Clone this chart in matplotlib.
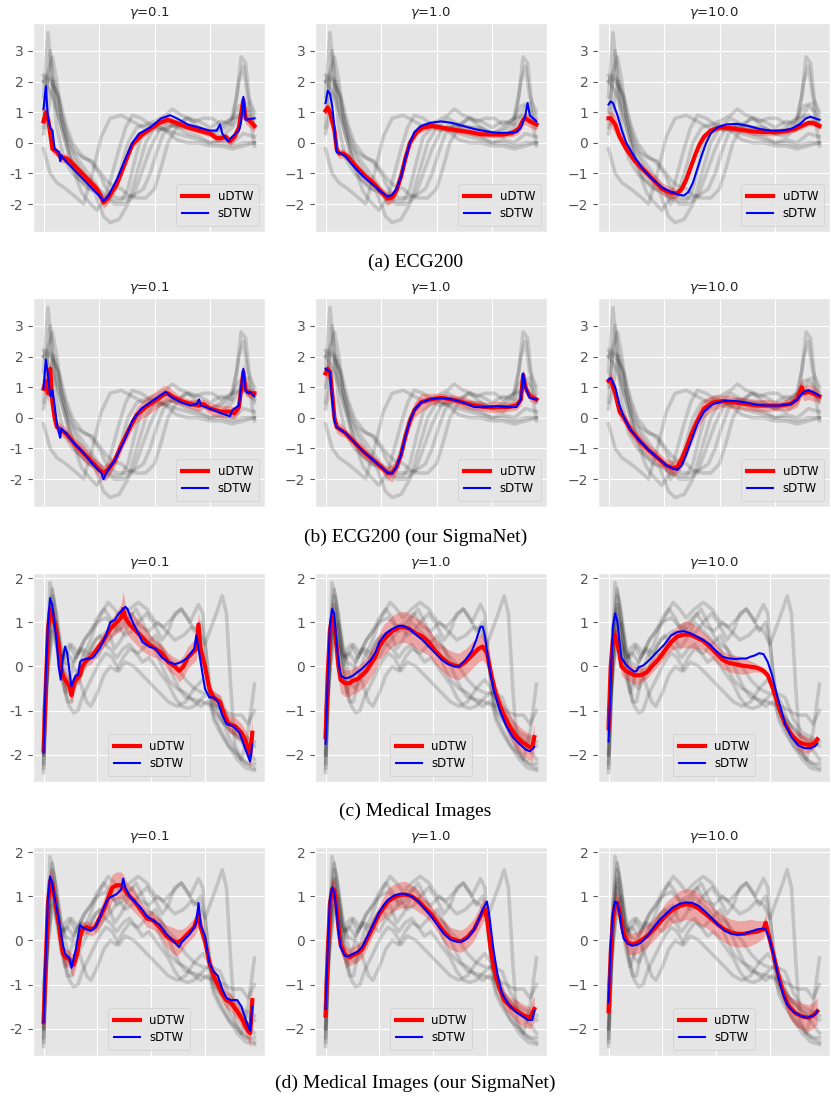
import numpy as np
import matplotlib
matplotlib.use("Agg")
import matplotlib.pyplot as plt
from matplotlib.ticker import FuncFormatter, FixedLocator

plt.style.use("ggplot")

# ---------------- ECG200 background series (x, y) ----------------
ECG_G1 = [(0,-0.2),(3,-1.0),(6,-1.3),(10,-1.5),(15,-1.8),(18,-2.0),(22,-1.0),(26,0.2),(30,0.8),(35,0.9),(40,0.7),(45,0.5),(50,0.6),(55,0.4),(60,0.1),(65,0.0),(70,0.0),(75,-0.1),(80,-0.1),(85,-0.2),(90,-0.1),(95,0.0)]
ECG_G2 = [(0,1.5),(2,3.6),(4,2.0),(6,0.5),(9,-0.5),(13,-1.0),(18,-1.3),(23,-1.6),(27,-2.4),(30,-2.6),(34,-2.5),(38,-2.0),(42,-1.0),(46,0.0),(50,0.5),(55,0.8),(60,0.6),(65,0.5),(70,0.5),(75,0.3),(80,0.4),(84,0.6),(87,1.5),(89,2.8),(91,2.6),(93,1.2),(95,0.8)]
ECG_G3 = [(0,2.0),(2,2.3),(4,2.8),(6,2.0),(8,0.8),(11,0.0),(15,-0.5),(20,-1.0),(25,-1.5),(28,-2.0),(32,-1.5),(35,-0.8),(38,0.0),(42,0.5),(46,0.6),(50,0.7),(55,0.9),(58,1.1),(62,0.9),(66,0.8),(70,0.7),(75,0.5),(80,0.7),(85,0.6),(88,2.0),(90,2.5),(92,1.5),(95,1.0)]
ECG_G4 = [(0,0.5),(2,2.2),(5,2.0),(8,1.0),(11,0.2),(14,-0.3),(18,-0.5),(22,-0.6),(25,-0.9),(28,-1.2),(31,-1.4),(35,-1.5),(38,-1.7),(42,-1.8),(46,-1.8),(50,-1.5),(53,-0.8),(56,0.0),(60,0.5),(64,0.8),(68,0.7),(72,0.8),(76,0.8),(80,0.6),(85,0.8),(90,0.9),(95,0.6)]
ECG_G5 = [(0,2.0),(2,1.8),(4,1.5),(7,0.8),(10,0.0),(14,-1.0),(17,-1.6),(20,-1.9),(24,-2.2),(28,-1.8),(31,-1.0),(34,-0.2),(37,0.5),(40,0.9),(44,0.8),(48,0.6),(52,0.5),(56,0.4),(60,0.3),(65,0.2),(70,0.1),(75,0.0),(80,0.1),(85,0.0),(90,0.3),(95,0.2)]
ECG_G6 = [(0,1.0),(2,2.1),(4,1.9),(7,1.5),(10,0.6),(13,0.0),(17,-0.4),(21,-0.6),(25,-1.0),(29,-1.6),(33,-1.8),(37,-1.8),(41,-1.7),(45,-1.5),(48,-1.0),(51,-0.3),(54,0.3),(58,0.6),(62,0.5),(66,0.5),(70,0.4),(75,0.3),(80,0.2),(85,0.5),(90,1.2),(93,1.0),(95,0.5)]
ECG_G7 = [(0,2.2),(2,2.0),(3,3.0),(5,1.5),(8,0.5),(12,-0.5),(16,-1.2),(20,-1.5),(24,-1.6),(28,-1.8),(32,-2.0),(36,-2.0),(40,-1.8),(44,-1.0),(48,-0.2),(52,0.4),(56,0.6),(60,0.5),(65,0.3),(70,0.2),(75,0.0),(80,0.0),(85,-0.1),(90,0.0),(95,0.0)]
ECG_G8 = [(0,0.3),(2,1.0),(4,2.0),(6,1.5),(9,0.5),(12,-0.3),(16,-0.8),(20,-1.2),(24,-1.5),(28,-1.7),(32,-1.9),(35,-1.9),(38,-1.5),(41,-0.6),(44,0.2),(48,0.5),(52,0.4),(56,0.5),(60,0.6),(65,0.8),(70,0.5),(75,0.3),(80,0.5),(85,0.8),(88,1.2),(92,1.3),(95,-0.1)]

# ---------------- Medical Images background series (x, y) ----------------
MED_G1 = [(0,-2.4),(2,0.5),(3,1.9),(5,1.5),(7,0.5),(9,-0.3),(11,-0.8),(13,-0.8),(15,-0.3),(18,0.2),(21,0.5),(24,0.9),(27,1.2),(30,1.45),(33,1.3),(36,1.1),(40,1.3),(44,1.45),(48,1.3),(52,1.0),(56,0.9),(60,1.1),(64,1.3),(68,1.0),(72,1.4),(74,1.2),(76,0.0),(78,-1.0),(82,-1.4),(86,-1.8),(90,-2.1),(94,-2.3),(98,-2.35)]
MED_G2 = [(0,-2.2),(2,0.8),(4,1.75),(6,1.0),(8,0.3),(10,0.2),(13,0.5),(16,0.3),(19,0.6),(22,0.8),(25,1.0),(29,1.1),(33,0.9),(37,1.0),(41,1.2),(45,0.9),(49,0.8),(53,1.0),(57,0.8),(61,0.6),(65,0.7),(69,0.9),(72,0.8),(75,0.5),(78,0.9),(81,1.3),(83,1.6),(85,1.2),(87,-0.5),(89,-1.8),(92,-2.1),(95,-1.5),(98,-0.4)]
MED_G3 = [(0,-2.0),(2,0.0),(4,1.2),(6,0.5),(8,0.0),(10,0.4),(12,0.5),(15,0.2),(18,0.4),(21,0.3),(24,0.6),(27,0.7),(30,0.8),(33,0.4),(36,0.6),(40,1.0),(44,0.8),(48,0.6),(52,0.4),(55,0.0),(58,-0.3),(62,-0.5),(66,-0.6),(70,-0.8),(73,-0.9),(76,-0.8),(80,-0.9),(84,-1.0),(88,-1.1),(92,-1.1),(95,-1.3),(98,-1.0)]
MED_G4 = [(0,-1.5),(2,0.5),(4,1.4),(6,0.8),(8,0.2),(10,-0.5),(12,-0.9),(14,-1.05),(16,-1.0),(18,-0.7),(20,-0.5),(23,-0.2),(26,0.1),(29,0.3),(32,0.2),(35,-0.1),(38,0.1),(42,0.0),(46,-0.2),(50,-0.4),(54,-0.6),(58,-0.8),(62,-0.9),(66,-0.8),(70,-0.5),(74,-0.3),(77,-0.5),(80,-1.0),(84,-1.3),(88,-1.5),(92,-1.7),(95,-1.9),(98,-2.1)]
MED_G5 = [(0,-2.3),(2,0.3),(4,1.3),(6,0.5),(8,-0.2),(10,-0.6),(12,-0.3),(14,0.0),(16,-0.2),(18,-0.5),(20,-0.8),(22,-0.9),(25,-0.6),(28,-0.2),(31,0.0),(34,-0.1),(37,0.2),(40,0.4),(44,0.3),(48,0.5),(52,0.7),(56,0.3),(60,-0.2),(63,-0.5),(66,-0.7),(70,-0.75),(74,-0.8),(78,-0.9),(82,-1.2),(86,-1.4),(90,-1.6),(94,-1.7),(98,-1.8)]
MED_G6 = [(0,-1.2),(2,0.0),(4,0.8),(6,0.5),(8,0.2),(11,0.3),(14,0.1),(17,0.4),(20,0.2),(23,0.5),(26,0.7),(29,0.5),(32,0.7),(35,0.9),(38,0.7),(41,0.8),(44,1.0),(48,1.2),(52,0.9),(55,0.6),(58,0.8),(61,1.2),(64,1.3),(67,1.1),(70,0.8),(73,1.0),(75,0.5),(77,-0.3),(79,-1.2),(82,-1.5),(86,-1.8),(90,-2.0),(94,-2.2),(98,-2.3)]
MED_G7 = [(0,-2.0),(2,0.5),(4,1.6),(6,1.2),(8,0.5),(10,0.0),(12,-0.4),(14,-0.5),(16,-0.3),(19,0.0),(22,0.3),(25,0.2),(28,0.5),(31,0.4),(34,0.2),(37,0.4),(40,0.5),(43,0.3),(46,0.1),(49,0.2),(52,0.0),(55,-0.2),(58,-0.4),(61,-0.7),(64,-0.9),(67,-0.95),(70,-0.9),(74,-0.7),(77,-0.6),(80,-0.8),(83,-1.2),(86,-1.6),(89,-1.9),(92,-2.1),(95,-2.2),(98,-2.2)]
MED_G8 = [(0,-1.0),(2,-0.2),(4,0.8),(6,1.0),(8,0.4),(10,0.1),(13,0.0),(16,0.3),(19,0.6),(22,0.8),(25,1.1),(28,1.3),(31,1.1),(34,0.8),(37,0.9),(40,1.1),(43,1.3),(46,1.0),(49,0.7),(52,0.5),(55,0.4),(58,0.2),(62,0.0),(66,-0.3),(70,-0.5),(74,-0.6),(78,-0.6),(82,-0.7),(86,-1.2),(90,-1.5),(94,-1.6),(98,-1.7)]

# ---------------- uDTW (x, mean, half band) and sDTW (x, y) ----------------
A1_U = [(0,0.7,0.15),(1,1.0,0.2),(2,0.8,0.2),(3,0.3,0.2),(4,-0.2,0.15),(6,-0.3,0.15),(8,-0.5,0.15),(10,-0.5,0.15),(12,-0.6,0.15),(16,-0.9,0.15),(20,-1.2,0.15),(24,-1.5,0.15),(26,-1.8,0.2),(27,-1.95,0.2),(29,-1.8,0.2),(33,-1.35,0.15),(37,-0.6,0.15),(40,-0.05,0.12),(44,0.25,0.12),(48,0.45,0.12),(52,0.65,0.12),(56,0.75,0.12),(60,0.65,0.1),(65,0.5,0.1),(70,0.4,0.1),(75,0.3,0.1),(78,0.15,0.12),(80,0.15,0.12),(82,0.2,0.12),(84,0.05,0.15),(86,0.2,0.15),(88,0.5,0.15),(90,1.4,0.2),(91,0.8,0.2),(93,0.7,0.2),(95,0.55,0.2)]
A1_S = [(0,1.1),(1,1.85),(2,0.8),(3,0.5),(4,0.4),(5,-0.2),(7,-0.3),(7.5,-0.6),(8,-0.4),(10,-0.6),(14,-0.9),(18,-1.2),(22,-1.5),(26,-1.8),(27,-1.9),(29,-1.75),(33,-1.2),(37,-0.5),(40,0.0),(43,0.3),(48,0.5),(53,0.8),(57,0.9),(60,0.8),(65,0.6),(70,0.5),(75,0.4),(78,0.4),(79.5,0.6),(80.5,0.3),(83,0.05),(85,0.2),(88,0.4),(89,0.7),(90,1.5),(91,0.75),(95,0.8)]
A2_U = [(0,1.05,0.15),(1,1.15,0.15),(2,1.0,0.15),(4,0.4,0.15),(5,-0.2,0.15),(6,-0.35,0.15),(8,-0.35,0.15),(10,-0.45,0.15),(14,-0.8,0.15),(18,-1.1,0.15),(22,-1.35,0.15),(25,-1.6,0.15),(28,-1.82,0.2),(30,-1.78,0.2),(32,-1.55,0.15),(34,-1.1,0.15),(36,-0.5,0.15),(38,0.0,0.12),(41,0.35,0.12),(44,0.5,0.12),(48,0.55,0.1),(52,0.5,0.1),(56,0.45,0.1),(60,0.4,0.1),(65,0.35,0.1),(70,0.28,0.1),(75,0.27,0.1),(80,0.27,0.1),(84,0.32,0.12),(87,0.45,0.15),(89,0.75,0.2),(90,0.8,0.2),(92,0.7,0.2),(95,0.6,0.2)]
A2_S = [(0,1.3),(1,1.7),(2,1.6),(3,1.2),(4,0.5),(5,-0.3),(7,-0.35),(9,-0.45),(13,-0.8),(17,-1.1),(21,-1.35),(25,-1.6),(28,-1.75),(30,-1.7),(32,-1.5),(34,-1.1),(36,-0.5),(38,0.0),(40,0.35),(43,0.55),(47,0.65),(52,0.7),(57,0.65),(62,0.55),(67,0.45),(72,0.38),(77,0.33),(82,0.32),(86,0.35),(88,0.5),(90,0.9),(91,1.3),(92,0.9),(95,0.7)]
A3_U = [(0,0.8,0.2),(1,0.8,0.25),(3,0.6,0.3),(5,0.2,0.2),(8,-0.2,0.15),(12,-0.6,0.15),(16,-0.9,0.15),(20,-1.2,0.2),(24,-1.5,0.2),(28,-1.63,0.2),(31,-1.65,0.15),(33,-1.5,0.12),(35,-1.2,0.1),(37,-0.8,0.1),(39,-0.4,0.1),(41,-0.05,0.1),(43,0.2,0.1),(46,0.4,0.1),(50,0.5,0.1),(55,0.48,0.1),(60,0.42,0.1),(65,0.37,0.12),(70,0.35,0.12),(75,0.35,0.12),(80,0.38,0.1),(84,0.45,0.1),(87,0.55,0.1),(90,0.65,0.1),(92,0.65,0.1),(95,0.55,0.1)]
A3_S = [(0,1.25),(1,1.35),(2,1.3),(4,0.9),(6,0.4),(8,0.0),(12,-0.5),(16,-0.9),(20,-1.2),(24,-1.45),(28,-1.6),(32,-1.7),(34,-1.72),(36,-1.6),(38,-1.3),(40,-0.85),(42,-0.4),(44,0.0),(46,0.3),(49,0.5),(53,0.6),(58,0.62),(63,0.55),(68,0.45),(73,0.4),(78,0.4),(82,0.45),(86,0.6),(89,0.8),(91,0.85),(93,0.8),(95,0.75)]
B1_U = [(0,0.95,0.2),(1,1.2,0.3),(2,0.8,0.3),(3,1.6,0.3),(4,0.5,0.3),(5,0.0,0.25),(6,-0.3,0.2),(8,-0.4,0.2),(10,-0.5,0.2),(14,-0.85,0.2),(18,-1.15,0.25),(22,-1.45,0.2),(25,-1.7,0.25),(27,-1.8,0.25),(29,-1.7,0.25),(32,-1.4,0.2),(35,-0.9,0.2),(39,-0.3,0.2),(42,0.1,0.25),(46,0.35,0.3),(50,0.55,0.3),(54,0.75,0.3),(56,0.8,0.25),(58,0.7,0.2),(62,0.55,0.15),(66,0.45,0.15),(70,0.4,0.2),(72,0.45,0.15),(75,0.3,0.2),(80,0.2,0.2),(84,0.2,0.2),(86,0.15,0.2),(88,0.35,0.2),(90,1.5,0.3),(91,0.9,0.2),(93,0.8,0.15),(95,0.8,0.15)]
B1_S = [(0,0.95),(1,1.9),(2,1.4),(3,0.7),(4,0.9),(5,0.4),(6,-0.2),(7,-0.5),(7.5,-0.65),(8,-0.35),(10,-0.5),(14,-0.85),(18,-1.15),(22,-1.5),(26,-1.8),(27,-2.0),(29,-1.7),(32,-1.4),(36,-0.8),(40,-0.1),(44,0.3),(48,0.5),(52,0.7),(55,0.85),(57,0.7),(62,0.5),(66,0.4),(69,0.45),(70,0.6),(71,0.4),(75,0.3),(80,0.15),(82,0.1),(84,0.05),(85,0.25),(88,0.4),(90,1.6),(91,0.9),(92,0.8),(93,0.85),(95,0.7)]
B2_U = [(0,1.45,0.15),(1,1.6,0.2),(2,1.5,0.2),(3,0.8,0.2),(4,0.0,0.2),(5,-0.3,0.2),(7,-0.4,0.2),(9,-0.5,0.15),(13,-0.8,0.15),(17,-1.1,0.2),(21,-1.35,0.15),(25,-1.6,0.15),(28,-1.8,0.2),(30,-1.8,0.3),(32,-1.6,0.2),(34,-1.2,0.2),(36,-0.6,0.2),(38,-0.1,0.2),(40,0.25,0.25),(43,0.5,0.3),(47,0.6,0.2),(52,0.65,0.15),(57,0.6,0.15),(62,0.5,0.2),(67,0.4,0.15),(72,0.35,0.15),(77,0.35,0.2),(82,0.35,0.15),(86,0.4,0.15),(88,0.6,0.2),(89,1.4,0.2),(90,1.0,0.2),(92,0.7,0.15),(95,0.6,0.15)]
B2_S = [(0,1.6),(1,1.55),(2,1.5),(3,0.6),(4,-0.1),(5,-0.3),(7,-0.4),(9,-0.5),(13,-0.8),(17,-1.1),(21,-1.35),(25,-1.6),(28,-1.8),(30,-1.82),(32,-1.6),(34,-1.2),(36,-0.6),(38,-0.1),(40,0.25),(43,0.5),(47,0.6),(52,0.65),(57,0.6),(62,0.5),(67,0.35),(72,0.35),(77,0.38),(82,0.35),(86,0.35),(88,0.6),(89,1.45),(90,1.0),(92,0.65),(95,0.6)]
B3_U = [(0,1.2,0.2),(1,1.25,0.25),(3,0.8,0.3),(5,0.2,0.25),(7,0.0,0.2),(10,-0.4,0.2),(14,-0.75,0.2),(18,-1.05,0.2),(22,-1.3,0.2),(26,-1.55,0.2),(29,-1.65,0.25),(31,-1.6,0.25),(33,-1.35,0.25),(35,-1.0,0.3),(37,-0.6,0.3),(40,-0.1,0.3),(43,0.3,0.3),(47,0.5,0.25),(52,0.55,0.2),(57,0.5,0.2),(62,0.45,0.2),(67,0.4,0.2),(72,0.4,0.2),(77,0.4,0.15),(82,0.45,0.2),(85,0.6,0.25),(87,1.0,0.3),(88,0.8,0.25),(90,0.85,0.25),(92,0.8,0.25),(95,0.7,0.2)]
B3_S = [(0,1.25),(1,1.3),(3,1.0),(5,0.4),(7,0.0),(10,-0.4),(14,-0.75),(18,-1.05),(22,-1.3),(26,-1.55),(29,-1.65),(31,-1.7),(33,-1.55),(35,-1.2),(37,-0.8),(40,-0.2),(43,0.2),(47,0.45),(52,0.55),(57,0.55),(62,0.5),(67,0.42),(72,0.4),(77,0.4),(82,0.45),(85,0.6),(88,0.85),(90,0.9),(92,0.85),(95,0.72)]

C1_U = [(0,-1.9,0.2),(1,-0.5,0.2),(2,0.8,0.2),(3,1.3,0.2),(4,1.2,0.2),(5,1.0,0.2),(6,0.8,0.2),(7,0.5,0.2),(8,0.0,0.2),(9,-0.2,0.2),(10,-0.3,0.2),(12,-0.45,0.2),(13,-0.65,0.2),(14,-0.4,0.2),(15,-0.3,0.15),(17,-0.2,0.15),(18,0.0,0.15),(20,0.15,0.15),(22,0.2,0.15),(25,0.4,0.15),(28,0.6,0.15),(31,0.85,0.2),(34,1.0,0.25),(36,1.1,0.3),(37,1.3,0.4),(38,1.1,0.3),(40,0.95,0.3),(43,0.8,0.3),(46,0.65,0.3),(49,0.5,0.25),(52,0.4,0.2),(55,0.3,0.2),(58,0.1,0.2),(61,0.0,0.2),(63,-0.1,0.25),(65,0.0,0.25),(67,0.2,0.25),(71,0.4,0.25),(72,0.95,0.3),(73,0.4,0.25),(75,0.0,0.2),(77,-0.5,0.15),(79,-0.7,0.15),(82,-0.8,0.15),(84,-1.1,0.15),(86,-1.3,0.2),(89,-1.35,0.2),(92,-1.5,0.2),(94,-1.7,0.25),(96,-2.0,0.3),(97,-1.5,0.3)]
C1_S = [(0,-1.95),(1,-0.3),(2,0.9),(3,1.55),(4,1.4),(5,1.0),(6,0.6),(7,0.0),(8,-0.3),(9,0.2),(10,0.45),(11,0.3),(12,-0.1),(13,-0.45),(14,-0.3),(15,-0.2),(16,-0.2),(17,0.1),(18,0.15),(20,0.17),(23,0.2),(26,0.4),(29,0.7),(31,1.0),(33,1.05),(35,1.2),(37,1.3),(38,1.35),(39,1.3),(41,1.05),(43,0.85),(46,0.55),(49,0.45),(52,0.4),(55,0.2),(58,0.1),(61,0.05),(64,0.1),(67,0.2),(70,0.4),(71,0.7),(72,0.4),(73,0.1),(75,-0.5),(77,-0.7),(79,-0.7),(81,-0.8),(83,-1.1),(85,-1.3),(88,-1.35),(91,-1.5),(94,-1.9),(96,-2.15),(97,-1.75)]
C2_U = [(0,-1.6,0.2),(1,-0.2,0.3),(2,0.8,0.3),(3,1.1,0.35),(4,0.9,0.3),(5,0.5,0.3),(6,0.0,0.3),(7,-0.3,0.3),(9,-0.38,0.3),(11,-0.38,0.3),(13,-0.32,0.3),(15,-0.28,0.3),(17,-0.2,0.3),(19,-0.1,0.3),(21,0.05,0.3),(23,0.2,0.3),(25,0.45,0.3),(27,0.6,0.35),(29,0.7,0.35),(31,0.8,0.35),(34,0.88,0.35),(36,0.9,0.35),(39,0.85,0.35),(42,0.75,0.35),(45,0.68,0.35),(48,0.55,0.3),(51,0.35,0.3),(54,0.2,0.3),(57,0.08,0.3),(60,0.02,0.3),(62,0.0,0.3),(65,0.1,0.3),(68,0.25,0.3),(71,0.4,0.3),(73,0.45,0.3),(75,0.3,0.3),(77,-0.2,0.25),(79,-0.6,0.2),(82,-1.0,0.2),(85,-1.3,0.25),(88,-1.55,0.3),(91,-1.7,0.3),(94,-1.8,0.3),(96,-1.85,0.3),(97,-1.6,0.3)]
C2_S = [(0,-1.75),(1,-0.3),(2,0.9),(3,1.3),(4,1.2),(5,0.6),(6,0.1),(7,-0.2),(9,-0.27),(11,-0.25),(13,-0.2),(15,-0.12),(17,-0.05),(19,0.05),(21,0.15),(23,0.3),(25,0.55),(28,0.75),(31,0.85),(34,0.92),(36,0.92),(39,0.85),(42,0.72),(45,0.6),(48,0.45),(51,0.3),(54,0.15),(57,0.05),(60,0.0),(62,0.0),(65,0.15),(68,0.35),(70,0.6),(72,0.9),(73,0.9),(74,0.7),(76,0.0),(78,-0.5),(81,-1.0),(84,-1.35),(87,-1.6),(90,-1.75),(93,-1.88),(95,-1.92),(97,-1.82)]
C3_U = [(0,-1.4,0.2),(1,0.0,0.2),(2,0.6,0.2),(3,0.7,0.2),(4,0.55,0.2),(5,0.3,0.2),(6,0.0,0.2),(8,-0.1,0.2),(10,-0.15,0.2),(12,-0.2,0.2),(14,-0.2,0.2),(16,-0.18,0.15),(18,-0.12,0.15),(20,0.0,0.15),(23,0.15,0.15),(26,0.35,0.15),(29,0.55,0.2),(32,0.68,0.25),(35,0.72,0.3),(38,0.72,0.3),(41,0.65,0.25),(44,0.58,0.2),(47,0.45,0.2),(50,0.3,0.2),(53,0.15,0.2),(56,0.08,0.2),(59,0.05,0.2),(62,0.02,0.2),(65,0.0,0.15),(68,-0.02,0.1),(70,-0.05,0.08),(72,-0.1,0.08),(74,-0.2,0.08),(76,-0.45,0.08),(78,-0.75,0.08),(80,-1.05,0.08),(82,-1.3,0.08),(85,-1.55,0.1),(88,-1.7,0.2),(91,-1.76,0.2),(94,-1.78,0.15),(96,-1.72,0.1),(97,-1.65,0.1)]
C3_S = [(0,-1.7),(1,-0.3),(2,0.9),(3,1.2),(4,1.05),(5,0.6),(6,0.2),(8,0.05),(10,-0.05),(12,-0.12),(13,-0.1),(14,-0.02),(16,0.02),(18,0.1),(20,0.2),(23,0.35),(26,0.5),(29,0.7),(32,0.78),(35,0.8),(38,0.75),(41,0.68),(44,0.6),(47,0.5),(50,0.35),(53,0.22),(56,0.18),(59,0.17),(62,0.18),(64,0.18),(66,0.22),(68,0.25),(70,0.3),(72,0.28),(74,0.1),(76,-0.2),(78,-0.6),(80,-0.95),(82,-1.3),(85,-1.6),(88,-1.78),(91,-1.85),(94,-1.85),(96,-1.8),(97,-1.75)]
D1_U = [(0,-1.85,0.2),(1,-0.5,0.2),(2,0.8,0.2),(3,1.35,0.25),(4,1.3,0.25),(5,1.0,0.2),(6,0.7,0.2),(7,0.4,0.2),(8,0.0,0.2),(9,-0.3,0.2),(10,-0.38,0.2),(12,-0.42,0.2),(13,-0.55,0.25),(14,-0.55,0.25),(15,-0.4,0.2),(16,-0.2,0.2),(17,0.1,0.2),(18,0.25,0.15),(20,0.3,0.15),(22,0.25,0.15),(24,0.3,0.15),(26,0.5,0.2),(28,0.7,0.25),(30,0.95,0.3),(32,1.2,0.3),(34,1.25,0.3),(36,1.25,0.3),(37,1.2,0.3),(39,1.05,0.25),(42,0.9,0.25),(45,0.7,0.2),(48,0.5,0.2),(51,0.45,0.2),(54,0.3,0.2),(57,0.1,0.25),(60,0.0,0.3),(62,-0.05,0.3),(64,0.0,0.25),(66,0.1,0.2),(68,0.2,0.2),(70,0.3,0.2),(72,0.6,0.3),(73,0.3,0.25),(75,0.0,0.2),(77,-0.5,0.2),(79,-0.8,0.2),(81,-1.0,0.2),(83,-1.2,0.2),(85,-1.35,0.2),(87,-1.4,0.2),(90,-1.6,0.2),(93,-1.85,0.2),(95,-2.05,0.2),(96,-2.1,0.3),(97,-1.35,0.3)]
D1_S = [(0,-1.85),(1,-0.4),(2,0.9),(3,1.45),(4,1.3),(5,1.0),(6,0.75),(7,0.5),(8,0.2),(9,-0.1),(10,-0.3),(11,-0.35),(12,-0.4),(13,-0.62),(14,-0.4),(15,-0.2),(16,0.1),(17,0.35),(18,0.3),(20,0.25),(22,0.22),(24,0.3),(26,0.5),(28,0.75),(30,0.95),(32,1.0),(34,1.05),(36,1.15),(37,1.4),(38,1.2),(40,1.0),(42,0.9),(45,0.75),(48,0.55),(51,0.45),(54,0.35),(57,0.15),(60,0.0),(62,-0.1),(63,-0.15),(64,-0.05),(66,0.05),(68,0.15),(70,0.3),(71,0.4),(72,0.85),(73,0.35),(75,0.1),(77,-0.5),(79,-0.7),(81,-0.8),(83,-1.1),(85,-1.3),(87,-1.35),(90,-1.35),(92,-1.5),(94,-1.8),(96,-2.05),(97,-1.5)]
D2_U = [(0,-1.7,0.2),(1,-0.3,0.25),(2,0.8,0.25),(3,1.15,0.25),(4,1.15,0.25),(5,0.8,0.2),(6,0.3,0.2),(7,-0.1,0.2),(9,-0.32,0.2),(11,-0.38,0.2),(13,-0.33,0.2),(15,-0.28,0.2),(17,-0.2,0.2),(19,0.0,0.2),(21,0.2,0.2),(23,0.4,0.2),(25,0.6,0.2),(27,0.75,0.25),(29,0.88,0.3),(32,0.98,0.3),(35,1.03,0.3),(37,1.04,0.3),(40,1.0,0.25),(43,0.9,0.25),(46,0.75,0.2),(49,0.6,0.2),(52,0.4,0.2),(55,0.2,0.25),(58,0.05,0.25),(61,0.0,0.25),(63,-0.02,0.25),(66,0.08,0.25),(69,0.25,0.25),(71,0.45,0.25),(73,0.65,0.25),(74,0.72,0.25),(75,0.5,0.2),(77,-0.3,0.2),(79,-0.8,0.2),(81,-1.1,0.2),(83,-1.35,0.2),(86,-1.5,0.2),(89,-1.6,0.25),(92,-1.7,0.25),(95,-1.75,0.25),(97,-1.55,0.3)]
D2_S = [(0,-1.55),(1,-0.2),(2,0.9),(3,1.2),(4,1.1),(5,0.7),(6,0.2),(7,-0.15),(9,-0.35),(11,-0.35),(13,-0.3),(15,-0.25),(17,-0.15),(19,0.05),(21,0.25),(23,0.45),(25,0.65),(27,0.8),(29,0.92),(32,1.02),(35,1.06),(37,1.05),(40,1.0),(43,0.88),(46,0.72),(49,0.55),(52,0.35),(55,0.15),(58,0.02),(61,-0.03),(63,-0.03),(66,0.05),(69,0.25),(71,0.45),(73,0.7),(75,0.88),(76,0.6),(78,-0.2),(80,-0.8),(82,-1.2),(85,-1.45),(88,-1.6),(91,-1.7),(94,-1.8),(96,-1.8),(97,-1.6)]
D3_U = [(0,-1.6,0.2),(1,-0.3,0.25),(2,0.5,0.25),(3,0.8,0.25),(4,0.85,0.25),(5,0.7,0.25),(6,0.4,0.25),(7,0.15,0.25),(9,-0.05,0.25),(11,-0.08,0.25),(13,-0.06,0.25),(15,0.0,0.25),(18,0.1,0.25),(21,0.25,0.25),(24,0.42,0.25),(27,0.58,0.3),(30,0.7,0.3),(33,0.78,0.35),(36,0.82,0.35),(39,0.8,0.35),(42,0.72,0.35),(45,0.6,0.3),(48,0.48,0.3),(51,0.35,0.3),(54,0.25,0.3),(57,0.18,0.3),(60,0.15,0.3),(63,0.15,0.3),(66,0.18,0.3),(69,0.2,0.25),(72,0.25,0.2),(73,0.4,0.2),(74,0.2,0.2),(76,-0.2,0.15),(78,-0.6,0.15),(80,-1.0,0.15),(82,-1.3,0.2),(84,-1.5,0.25),(87,-1.65,0.3),(90,-1.72,0.3),(93,-1.75,0.3),(95,-1.7,0.3),(97,-1.6,0.3)]
D3_S = [(0,-1.4),(1,-0.1),(2,0.6),(3,0.88),(4,0.85),(5,0.65),(6,0.3),(7,0.05),(9,-0.08),(11,-0.12),(13,-0.1),(15,-0.05),(18,0.1),(21,0.3),(24,0.48),(27,0.62),(30,0.75),(33,0.83),(36,0.86),(39,0.85),(42,0.78),(45,0.65),(48,0.5),(51,0.35),(54,0.22),(57,0.15),(60,0.13),(63,0.15),(66,0.2),(69,0.25),(72,0.27),(73,0.25),(75,0.0),(77,-0.4),(79,-0.85),(81,-1.2),(83,-1.45),(86,-1.62),(89,-1.7),(92,-1.75),(94,-1.72),(96,-1.68),(97,-1.6)]

GAMMAS = ["0.1", "1.0", "10.0"]
CAPTIONS = ["(a) ECG200", "(b) ECG200 (our SigmaNet)", "(c) Medical Images", "(d) Medical Images (our SigmaNet)"]
ECG_GRAY = [ECG_G1, ECG_G2, ECG_G3, ECG_G4, ECG_G5, ECG_G6, ECG_G7, ECG_G8]
MED_GRAY = [MED_G1, MED_G2, MED_G3, MED_G4, MED_G5, MED_G6, MED_G7, MED_G8]
ROWS = [
    (ECG_GRAY, [(A1_U, A1_S), (A2_U, A2_S), (A3_U, A3_S)], "lower right"),
    (ECG_GRAY, [(B1_U, B1_S), (B2_U, B2_S), (B3_U, B3_S)], "lower right"),
    (MED_GRAY, [(C1_U, C1_S), (C2_U, C2_S), (C3_U, C3_S)], "lower center"),
    (MED_GRAY, [(D1_U, D1_S), (D2_U, D2_S), (D3_U, D3_S)], "lower center"),
]

W, H = 831, 1102
fig = plt.figure(figsize=(W / 100, H / 100), dpi=100)
fig.patch.set_facecolor("white")

LEFTS = [33, 315, 598]
TOPS = [23, 298, 573, 847]
AW, AH = 232, 209
CAP_Y = [262, 537, 811, 1083]

for r, (gray, pairs, legloc) in enumerate(ROWS):
    for c, (udtw, sdtw) in enumerate(pairs):
        ax = fig.add_axes([LEFTS[c] / W, 1 - (TOPS[r] + AH) / H, AW / W, AH / H])
        for g in gray:
            gx, gy = zip(*g)
            ax.plot(gx, gy, color="black", alpha=0.15, lw=2.6, zorder=1)
        ux, uy, uh = (np.array(v) for v in zip(*udtw))
        ax.fill_between(ux, uy - uh, uy + uh, color="red", alpha=0.28, lw=0, zorder=2)
        ax.plot(ux, uy, color="red", lw=3, label="uDTW", zorder=3)
        sx, sy = zip(*sdtw)
        ax.plot(sx, sy, color="blue", lw=1.5, label="sDTW", zorder=4)
        ax.xaxis.set_major_locator(FixedLocator([0, 25, 50, 75]))
        ax.set_xticklabels([])
        ax.tick_params(axis="x", length=0)
        ax.tick_params(axis="y", labelsize=10, colors="#555555", labelcolor="#555555")
        if c == 0:
            ax.yaxis.set_major_formatter(FuncFormatter(lambda v, p: f"{v:g}"))
        ax.set_title(r"$\gamma$=" + GAMMAS[c], fontsize=9.5, color="#222222", pad=5)
        ax.legend(loc=legloc, fontsize=8.5, handlelength=2.2, borderpad=0.5,
                  labelspacing=0.35, facecolor="#e5e5e5", edgecolor="#cccccc",
                  framealpha=0.9)
    fig.text(0.5, 1 - CAP_Y[r] / H, CAPTIONS[r], ha="center", va="center",
             fontsize=14, family="Liberation Serif", color="black")

fig.savefig("out.png", dpi=100, facecolor="white")
